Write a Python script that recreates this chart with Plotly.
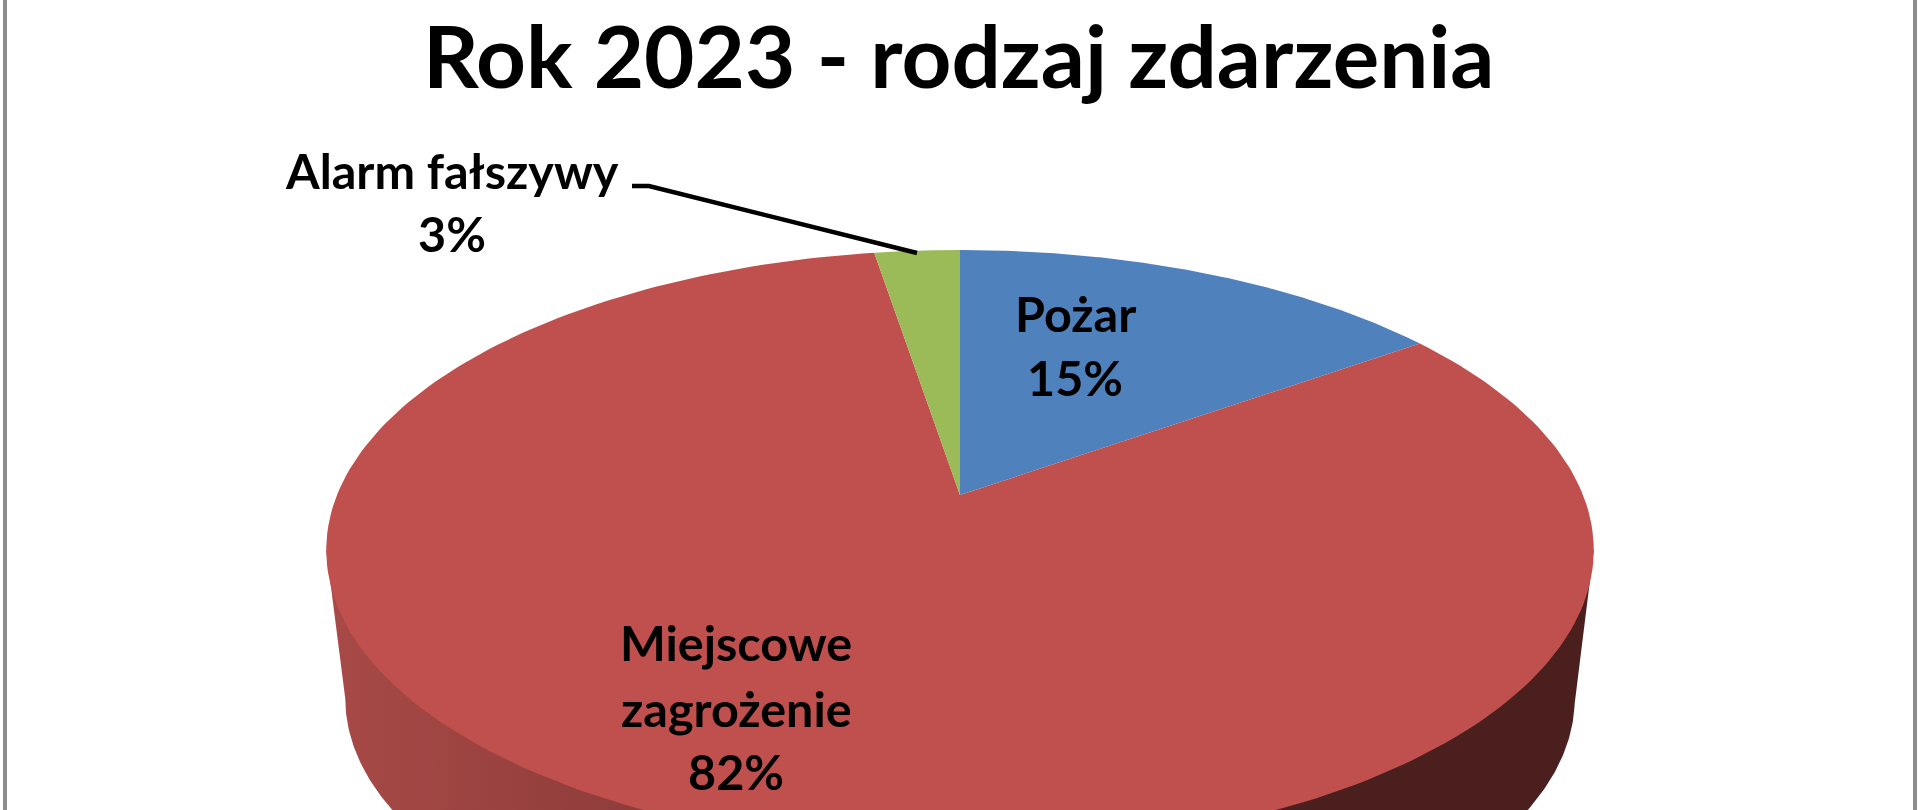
import numpy as np
import plotly.graph_objects as go

TITLE = "Rok 2023 - rodzaj zdarzenia"
CATEGORIES = ["Pożar", "Miejscowe zagrożenie", "Alarm fałszywy"]
VALUES = [15.2, 82.2, 2.6]
SLICE_COLORS = ["#4F81BD", "#C0504D", "#9BBB59"]

# label lines: text lines per category, last line is the percentage
LABEL_LINES = [["Pożar"], ["Miejscowe", "zagrożenie"], ["Alarm fałszywy"]]
LABEL_X = [1075, 736, 452]
LABEL_Y = [[313, 377], [642, 708, 771], [170, 233]]

LEADER_X = [632, 649, 917]
LEADER_Y = [186, 186, 253]

# perspective of the tilted disc, in picture pixels
CX, CY = 960, 495
A, B, K = 623, 290, 0.1834
WALL_DROP = 150
WALL_SCALE = 0.97

FONT = "Lato"


def project(angle, scale=1.0, drop=0.0):
    # angle is clockwise from 12 o'clock
    x, y = np.sin(angle), np.cos(angle)
    depth = 1 + K * y
    return CX + scale * A * x / depth, CY - scale * B * y / depth + drop


def wedge(start, end):
    t = np.linspace(start, end, 240)
    x, y = project(t)
    return np.r_[CX, x, CX], np.r_[CY, y, CY]


def wall():
    # widest points of the rim sit where the projected ellipse turns
    turn = np.pi / 2 + np.arcsin(K)
    t = np.linspace(turn, 2 * np.pi - turn, 300)
    x, y = project(t, WALL_SCALE, WALL_DROP)
    tx, ty = project(np.array([turn, 2 * np.pi - turn]))
    return np.r_[tx[0], x, tx[1]], np.r_[ty[0], y, ty[1]]


fig = go.Figure()

wall_x, wall_y = wall()
fig.add_trace(
    go.Scatter(
        x=wall_x,
        y=wall_y,
        mode="lines",
        line=dict(width=0),
        fill="toself",
        fillgradient=dict(
            type="horizontal",
            colorscale=[
                [0, "#A84A47"],
                [0.25, "#8E3C3A"],
                [0.75, "#4B1F1D"],
                [1, "#4B1F1D"],
            ],
        ),
        hoverinfo="skip",
    )
)

bounds = 2 * np.pi * np.r_[0, np.cumsum(VALUES)] / np.sum(VALUES)
for i, name in enumerate(CATEGORIES):
    x, y = wedge(bounds[i], bounds[i + 1])
    fig.add_trace(
        go.Scatter(
            x=x,
            y=y,
            name=name,
            mode="lines",
            line=dict(width=0),
            fill="toself",
            fillcolor=SLICE_COLORS[i],
            hoverinfo="name",
        )
    )

fig.add_trace(
    go.Scatter(
        x=LEADER_X,
        y=LEADER_Y,
        mode="lines",
        line=dict(color="black", width=4.5),
        hoverinfo="skip",
    )
)

fig.add_annotation(
    x=958,
    y=54,
    text=TITLE,
    showarrow=False,
    font=dict(family=FONT, size=87, color="black", weight=700),
)

for i, lines in enumerate(LABEL_LINES):
    texts = lines + [f"{round(VALUES[i])}%"]
    for text, y in zip(texts, LABEL_Y[i]):
        fig.add_annotation(
            x=LABEL_X[i],
            y=y,
            text=text,
            showarrow=False,
            font=dict(family=FONT, size=48.5, color="black", weight=700),
        )

# grey frame of the original chart on both sides
for x0, x1 in [(3, 7), (1913, 1917)]:
    fig.add_shape(
        type="rect",
        x0=x0,
        x1=x1,
        y0=0,
        y1=810,
        line=dict(width=0),
        fillcolor="#8C8C8C",
    )

fig.update_layout(
    width=1920,
    height=810,
    margin=dict(l=0, r=0, t=0, b=0),
    showlegend=False,
    paper_bgcolor="white",
    plot_bgcolor="white",
    xaxis=dict(range=[0, 1920], visible=False, fixedrange=True),
    yaxis=dict(range=[810, 0], visible=False, fixedrange=True),
)

fig.write_html(
    "out.html",
    config={"displayModeBar": False},
    post_script="document.body.style.margin = '0';",
)
